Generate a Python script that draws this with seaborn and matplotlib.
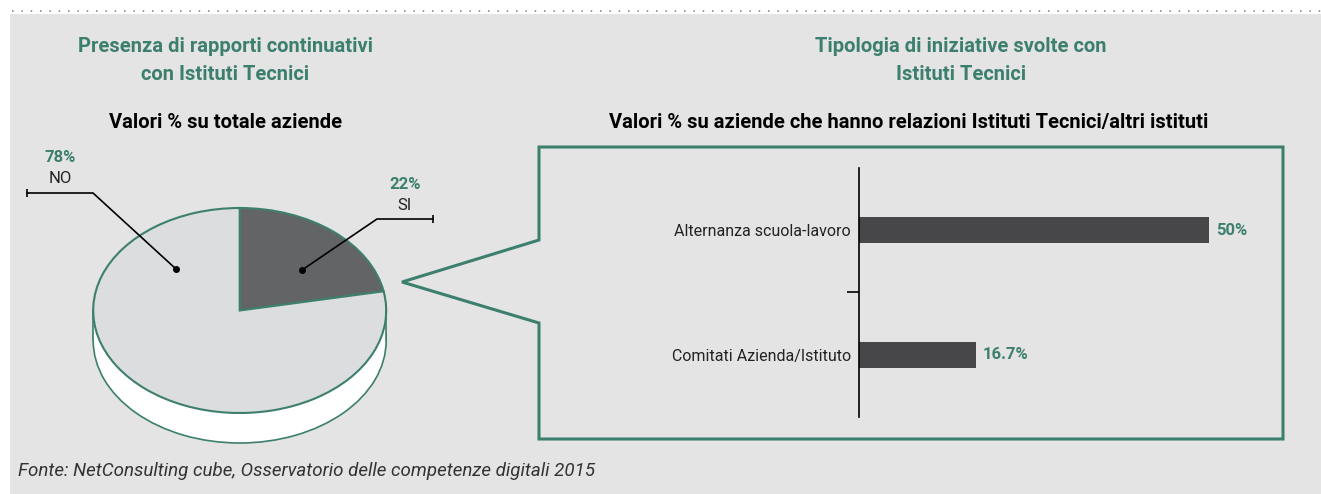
import matplotlib

matplotlib.use("Agg")
import matplotlib.pyplot as plt
import pandas as pd
import seaborn as sns
from matplotlib.patches import Polygon, Rectangle

# data
pie_labels = ["SI", "NO"]
pie_values = [22, 78]
bar_categories = ["Alternanza scuola-lavoro", "Comitati Azienda/Istituto"]
bar_values = [50, 16.7]
bar_value_labels = ["50%", "16.7%"]

W, H = 1321, 494
GREEN = "#3d7f6e"
GREY_BG = "#e3e4e3"
FONT = "Roboto"

sns.set_theme(style="white")
plt.rcParams["font.family"] = [FONT, "DejaVu Sans"]

fig = plt.figure(figsize=(W / 100, H / 100), dpi=100)
fig.patch.set_facecolor("white")


def box(left, top, right, bottom):
    return [left / W, 1 - bottom / H, (right - left) / W, (bottom - top) / H]


def pixel_axes(z):
    a = fig.add_axes([0, 0, 1, 1], zorder=z)
    a.set_xlim(0, W)
    a.set_ylim(H, 0)
    a.axis("off")
    a.patch.set_alpha(0)
    return a


# background canvas in pixel coordinates
bg = pixel_axes(0)
bg.add_patch(Rectangle((10, 14), W - 10, H - 14, facecolor=GREY_BG, edgecolor="none"))
bg.plot([12, W], [11, 11], color="#9a9a9a", lw=1.4, linestyle=(0, (0.8, 4)))

title_kw = dict(ha="center", va="center", fontsize=14.5, fontweight="bold", color=GREEN)
bg.text(225, 47, "Presenza di rapporti continuativi", **title_kw)
bg.text(225, 75, "con Istituti Tecnici", **title_kw)
bg.text(961, 47, "Tipologia di iniziative svolte con", **title_kw)
bg.text(961, 75, "Istituti Tecnici", **title_kw)
sub_kw = dict(ha="center", va="center", fontsize=14.5, fontweight="bold", color="black")
bg.text(226, 122, "Valori % su totale aziende", **sub_kw)
bg.text(909, 122, "Valori % su aziende che hanno relazioni Istituti Tecnici/altri istituti", **sub_kw)

bg.text(18, 471, "Fonte: NetConsulting cube, Osservatorio delle competenze digitali 2015",
        ha="left", va="center", fontsize=13.5, fontstyle="italic", color="#333333")

# callout frame
callout = [(539, 147), (1283, 147), (1283, 439), (539, 439), (539, 323), (402, 282), (539, 240)]
bg.add_patch(Polygon(callout, closed=True, facecolor="none", edgecolor=GREEN, lw=2.2,
                     joinstyle="miter"))

# pseudo-3D pie
cx, cy, rx, ry, depth_px = 239.7, 310.5, 146.5, 102.5, 30
pl, pt, pr, pb = 80, 195, 400, 455
pie_ax = fig.add_axes(box(pl, pt, pr, pb), zorder=1)
pie_ax.patch.set_alpha(0)
depth = depth_px / ry
pie_ax.pie([1], colors=["white"], center=(0, -depth), startangle=90,
           wedgeprops=dict(edgecolor=GREEN, linewidth=1.2))
pie_ax.add_patch(Rectangle((-1, -depth), 2, depth, facecolor="white", edgecolor="none"))
pie_ax.plot([-1, -1], [-depth, 0], color=GREEN, lw=1.2)
pie_ax.plot([1, 1], [-depth, 0], color=GREEN, lw=1.2)
pie_ax.pie(pie_values, colors=["#636466", "#dcdddf"], startangle=90, counterclock=False,
           wedgeprops=dict(edgecolor=GREEN, linewidth=1.5))
pie_ax.set_aspect("auto")
pie_ax.set_xlim((pl - cx) / rx, (pr - cx) / rx)
pie_ax.set_ylim((cy - pb) / ry, (cy - pt) / ry)
pie_ax.axis("off")

# leader lines and labels drawn above the pie
top = pixel_axes(2)
top.plot([176, 93, 27], [269, 193, 193], color="black", lw=1.2)
top.plot([27], [193], marker="|", color="black", markersize=6, mew=1.2)
top.plot([176], [269], marker="o", color="black", markersize=4)
top.plot([302, 377, 433], [270, 219, 219], color="black", lw=1.2)
top.plot([433], [219], marker="|", color="black", markersize=6, mew=1.2)
top.plot([302], [270], marker="o", color="black", markersize=4)
top.text(60, 157, f"{pie_values[1]}%", ha="center", va="center", fontsize=12,
         fontweight="bold", color=GREEN)
top.text(60, 178, pie_labels[1], ha="center", va="center", fontsize=12, color="#222222")
top.text(405, 184, f"{pie_values[0]}%", ha="center", va="center", fontsize=12,
         fontweight="bold", color=GREEN)
top.text(405, 205, pie_labels[0], ha="center", va="center", fontsize=12, color="#222222")

# horizontal bar chart
bar_ax = fig.add_axes(box(859, 168, 1279, 417), zorder=1)
bar_ax.patch.set_alpha(0)
bar_df = pd.DataFrame({"categoria": bar_categories, "valore": bar_values})
sns.barplot(data=bar_df, x="valore", y="categoria", orient="h", color="#474749",
            saturation=1, width=0.21, linewidth=0, ax=bar_ax)
bar_ax.set_xlim(0, 60)
bar_ax.set_ylim(1.5, -0.5)
bar_ax.bar_label(bar_ax.containers[0], labels=bar_value_labels, padding=5,
                 fontsize=12, fontweight="bold", color=GREEN)
for side in ["top", "right", "bottom"]:
    bar_ax.spines[side].set_visible(False)
bar_ax.spines["left"].set_color("black")
bar_ax.spines["left"].set_linewidth(1.2)
bar_ax.set_xticks([])
bar_ax.set_xlabel("")
bar_ax.set_ylabel("")
bar_ax.set_yticks([0.5], minor=True)
bar_ax.tick_params(axis="y", which="minor", left=True, length=9, width=1.2, color="black")
bar_ax.tick_params(axis="y", which="major", left=False, length=0, pad=6,
                   labelsize=11.5, labelcolor="#222222")

fig.savefig("out.png", dpi=100)
